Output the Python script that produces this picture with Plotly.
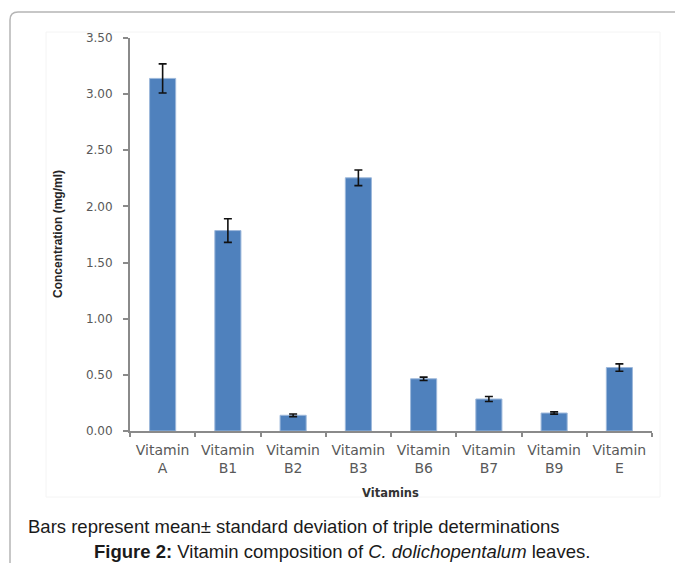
import plotly.graph_objects as go

categories = ["Vitamin<br>A", "Vitamin<br>B1", "Vitamin<br>B2", "Vitamin<br>B3",
              "Vitamin<br>B6", "Vitamin<br>B7", "Vitamin<br>B9", "Vitamin<br>E"]
means = [3.14, 1.785, 0.14, 2.255, 0.465, 0.285, 0.16, 0.565]
sds = [0.13, 0.105, 0.012, 0.07, 0.015, 0.022, 0.01, 0.033]
y_ticks = [0.0, 0.5, 1.0, 1.5, 2.0, 2.5, 3.0, 3.5]

# target page geometry (pixels in the 683x563 window); the page body has an
# 8px default margin, so the figure itself is 8px smaller and starts at (8, 8)
OFF = 8
PAGE_W, PAGE_H = 683, 563
W, H = PAGE_W - OFF, PAGE_H - OFF
L, R, T, B = 130, 652, 38, 431   # plot area in page pixels


def px(xp):
    return (xp - L) / (R - L)


def py(yp):
    return (B - yp) / (B - T)


fig = go.Figure()
fig.add_trace(go.Bar(
    x=categories, y=means,
    marker=dict(color="#4F81BD", line=dict(color="#9DB8DB", width=1)),
    error_y=dict(type="data", array=sds, visible=True, color="#111111",
                 thickness=1.6, width=4),
    showlegend=False,
))

axis_grey = "#8a8a8a"
label_grey = "#595959"

fig.update_layout(
    width=W, height=H,
    margin=dict(l=L - OFF, r=W - (R - OFF), t=T - OFF, b=H - (B - OFF), autoexpand=False),
    paper_bgcolor="white", plot_bgcolor="white",
    bargap=0.6,
    xaxis=dict(type="category", showline=True, linecolor=axis_grey, linewidth=2,
               ticks="outside", tickson="boundaries", ticklen=4, tickcolor=axis_grey,
               tickwidth=1.5, showgrid=False,
               tickfont=dict(family="DejaVu Sans", size=14, color=label_grey),
               ticklabelstandoff=5),
    yaxis=dict(range=[0, 3.5], tickvals=y_ticks, tickformat=".2f",
               showline=True, linecolor=axis_grey, linewidth=2,
               ticks="outside", ticklen=5, tickcolor=axis_grey, tickwidth=1.5,
               showgrid=False, zeroline=False,
               tickfont=dict(family="DejaVu Sans", size=12, color=label_grey),
               ticklabelstandoff=8),
)

# outer frame (rounded top-left corner) and faint inner chart-area box
r = 8
fig.add_shape(type="path", xref="paper", yref="paper",
              path=(f"M {px(10)},{py(PAGE_H + 5)} L {px(10)},{py(12 + r)} "
                    f"Q {px(10)},{py(12)} {px(10 + r)},{py(12)} L {px(PAGE_W + 5)},{py(12)}"),
              line=dict(color="#b5b5b5", width=1.5))
fig.add_shape(type="rect", xref="paper", yref="paper",
              x0=px(46), x1=px(660), y0=py(497), y1=py(32),
              line=dict(color="#f4f4f4", width=1), layer="below")

fig.add_annotation(text="Concentration (mg/ml)", xref="paper", yref="paper",
                   x=px(58), y=py(234), xanchor="center", yanchor="middle",
                   textangle=-90, showarrow=False,
                   font=dict(family="Liberation Sans Narrow, Arial Narrow, Liberation Sans",
                             size=12, color="#262626", weight="bold"))
fig.add_annotation(text="<b>Vitamins</b>", xref="paper", yref="paper",
                   x=px(390), y=py(493), xanchor="center", yanchor="middle",
                   showarrow=False,
                   font=dict(family="DejaVu Sans", size=11.5, color="#333333"))
fig.add_annotation(text="Bars represent mean± standard deviation of triple determinations",
                   xref="paper", yref="paper", x=px(26), y=py(526),
                   xanchor="left", yanchor="middle", showarrow=False,
                   font=dict(family="Liberation Sans, Arial", size=18.5, color="#1a1a1a"))
fig.add_annotation(text="<b>Figure 2:</b> Vitamin composition of <i>C. dolichopentalum</i> leaves.",
                   xref="paper", yref="paper", x=px(92), y=py(551),
                   xanchor="left", yanchor="middle", showarrow=False,
                   font=dict(family="Liberation Sans, Arial", size=18.5, color="#1a1a1a"))

fig.write_html("out.html")
